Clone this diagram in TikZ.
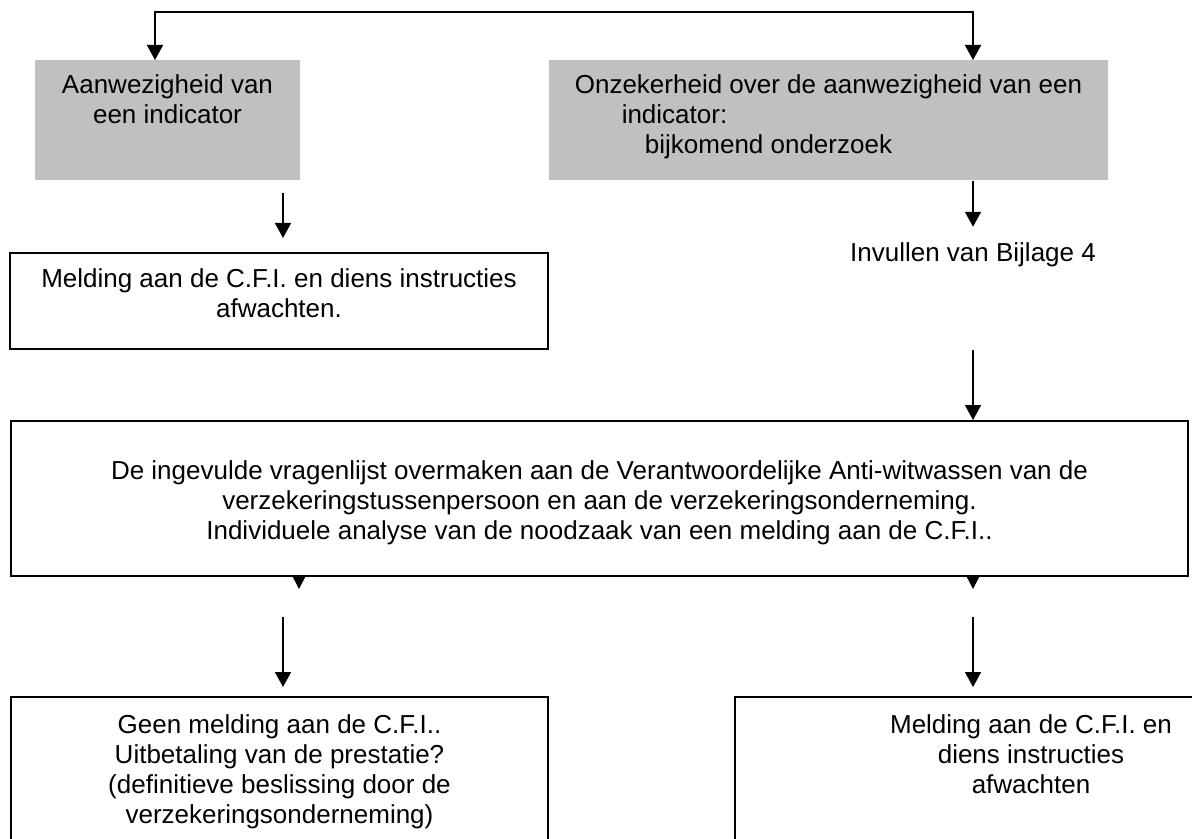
\documentclass[tikz,border=0pt]{standalone}
\usepackage{fontspec}
\setmainfont{Liberation Sans}
\usetikzlibrary{arrows.meta}
\definecolor{boxgrey}{RGB}{192,192,192}
\tikzset{
  >={Triangle[width=8pt,length=7.5pt]},
  flow/.style={->, line width=0.75pt},
  stub/.style={-{Triangle[width=6pt,length=6pt]}, line width=0.75pt},
  greybox/.style={
    fill=boxgrey, anchor=north, align=center, inner ysep=0pt
  },
  whitebox/.style={
    draw, fill=white, line width=1pt, anchor=north, align=center,
    inner ysep=0pt
  }
}

\begin{document}
\begin{tikzpicture}[x=0.5pt, y=-0.5pt, font=\fontsize{13}{15}\selectfont]
    \useasboundingbox (0,0) rectangle (1192,839);
    \clip (0,0) rectangle (1192,839);

    \node [greybox, minimum width=132.5pt, text height=31.5pt, text depth=28.5pt] (aanw) at (167.5,60)
      {Aanwezigheid van\\een indicator};
    \node [greybox, minimum width=279.5pt, text height=46.5pt, text depth=13.5pt] (onz) at (828.5,60)
      {Onzekerheid over de aanwezigheid van een\\indicator:\makebox[154pt]{}\\bijkomend onderzoek\makebox[60pt]{}};

    \node [whitebox, minimum width=269pt, text height=32.5pt, text depth=15.5pt] (meld1) at (279,252)
      {Melding aan de C.F.I. en diens instructies\\afwachten.};
    \node [anchor=base, inner sep=0pt] (invul) at (973,262) {Invullen van Bijlage 4};

    \node [whitebox, minimum width=588.5pt, text height=59pt, text depth=18.5pt] (vraag) at (599.5,420)
      {De ingevulde vragenlijst overmaken aan de Verantwoordelijke Anti-witwassen van de\\
       verzekeringstussenpersoon en aan de verzekeringsonderneming.\\
       Individuele analyse van de noodzaak van een melding aan de C.F.I..};

    \node [whitebox, minimum width=268.5pt, text height=63pt, text depth=60pt] (geen) at (279.5,696)
      {Geen melding aan de C.F.I..\\Uitbetaling van de prestatie?\\(definitieve beslissing door de\\verzekeringsonderneming)};
    \node [whitebox, minimum width=296pt, text height=48pt, text depth=75pt] (meld2) at (1031,696)
      {Melding aan de C.F.I. en\\diens instructies\\afwachten};

    \draw [flow, <->] ([xshift=-6.25pt]aanw.north) -- ++(0,-48) -| (onz.north -| invul.base);
    \draw [flow, shorten <=6pt, shorten >=7pt] ([xshift=2pt]meld1.north |- aanw.south) -- ([xshift=2pt]meld1.north);
    \draw [flow, shorten >=8pt] (onz.south -| invul.base) -- (invul.north);
    \draw [flow] (meld1.south -| invul.base) -- (vraag.north -| invul.base);

    \draw [stub] ([xshift=-150.25pt]vraag.south) -- ++(0,12);
    \draw [stub] (vraag.south -| invul.base) -- ++(0,12);

    \draw [flow, shorten <=20pt, shorten >=4.5pt] ([xshift=1.75pt]geen.north |- vraag.south) -- ([xshift=1.75pt]geen.north);
    \draw [flow, shorten <=20pt, shorten >=4.5pt] (vraag.south -| invul.base) -- (meld2.north -| invul.base);
\end{tikzpicture}
\end{document}
